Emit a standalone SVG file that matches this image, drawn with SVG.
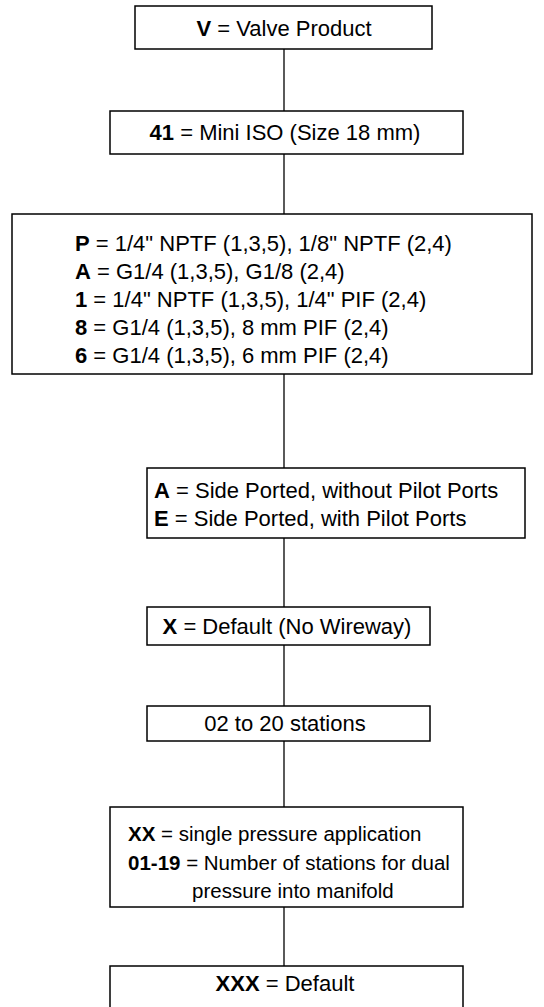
<svg xmlns="http://www.w3.org/2000/svg" width="544" height="1007" viewBox="0 0 544 1007">
<style>
.box{fill:#fff;stroke:#000;stroke-width:1.5}
.t{font-family:"Liberation Sans",Arial,sans-serif;font-size:22px;fill:#000}
.s{font-size:20.5px}
.c{text-anchor:middle}
.b{font-weight:bold}
.ln{stroke:#000;stroke-width:1.3;fill:none}
</style>
<rect width="544" height="1007" fill="#fff"/>
<g id="connectors">
<line class="ln" x1="284" y1="49" x2="284" y2="111"/>
<line class="ln" x1="284" y1="154" x2="284" y2="214"/>
<line class="ln" x1="284" y1="374" x2="284" y2="468"/>
<line class="ln" x1="284" y1="538" x2="284" y2="607"/>
<line class="ln" x1="284" y1="645" x2="284" y2="706"/>
<line class="ln" x1="284" y1="741" x2="284" y2="807"/>
<line class="ln" x1="284" y1="907" x2="284" y2="966"/>
</g>
<g id="n1">
<rect class="box" x="135" y="6" width="297" height="43"/>
<text class="t c" x="284" y="36"><tspan class="b">V</tspan> = Valve Product</text>
</g>
<g id="n2">
<rect class="box" x="110" y="111" width="353" height="43"/>
<text class="t c" x="285" y="140"><tspan class="b">41</tspan> = Mini ISO (Size 18 mm)</text>
</g>
<g id="n3">
<rect class="box" x="12" y="214" width="520" height="160"/>
<text class="t" x="75" y="251"><tspan class="b">P</tspan> = 1/4" NPTF (1,3,5), 1/8" NPTF (2,4)</text>
<text class="t" x="75" y="279"><tspan class="b">A</tspan> = G1/4 (1,3,5), G1/8 (2,4)</text>
<text class="t" x="75" y="307"><tspan class="b">1</tspan> = 1/4" NPTF (1,3,5), 1/4" PIF (2,4)</text>
<text class="t" x="75" y="335"><tspan class="b">8</tspan> = G1/4 (1,3,5), 8 mm PIF (2,4)</text>
<text class="t" x="75" y="363"><tspan class="b">6</tspan> = G1/4 (1,3,5), 6 mm PIF (2,4)</text>
</g>
<g id="n4">
<rect class="box" x="147" y="468" width="378" height="70"/>
<text class="t" x="154" y="498"><tspan class="b">A</tspan> = Side Ported, without Pilot Ports</text>
<text class="t" x="154" y="526"><tspan class="b">E</tspan> = Side Ported, with Pilot Ports</text>
</g>
<g id="n5">
<rect class="box" x="147" y="607" width="283" height="38"/>
<text class="t c" x="287" y="634"><tspan class="b">X</tspan> = Default (No Wireway)</text>
</g>
<g id="n6">
<rect class="box" x="147" y="706" width="283" height="35"/>
<text class="t c" x="285" y="731">02 to 20 stations</text>
</g>
<g id="n7">
<rect class="box" x="110" y="807" width="353" height="100"/>
<text class="t s" x="128" y="841"><tspan class="b">XX</tspan> = single pressure application</text>
<text class="t s" x="128" y="870"><tspan class="b">01-19</tspan> = Number of stations for dual</text>
<text class="t s" x="192" y="898">pressure into manifold</text>
</g>
<g id="n8">
<rect class="box" x="110" y="966" width="353" height="45"/>
<text class="t c" x="285" y="991"><tspan class="b">XXX</tspan> = Default</text>
</g>
</svg>
